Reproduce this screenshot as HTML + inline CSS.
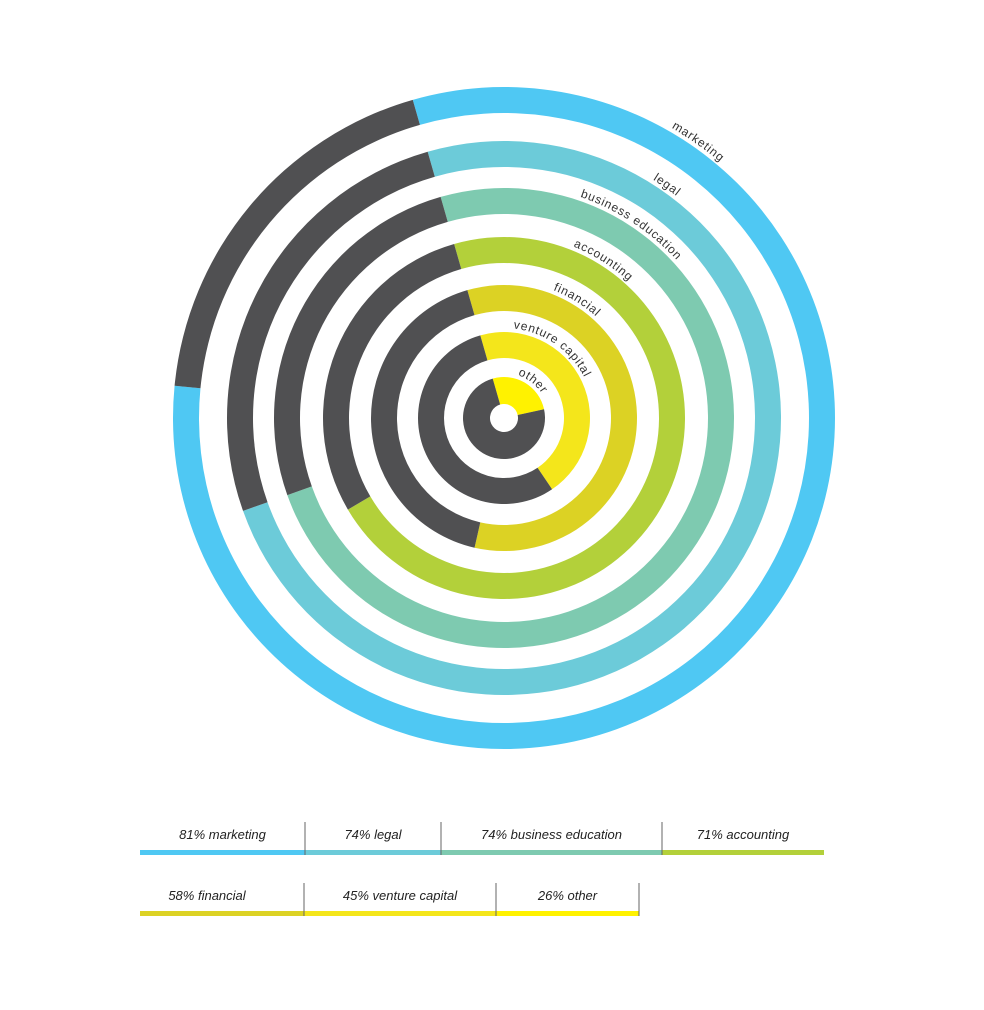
<!DOCTYPE html>
<html><head><meta charset="utf-8"><style>
html,body{margin:0;padding:0;background:#fff;}
svg{display:block;}
text{font-family:"Liberation Sans",sans-serif;}
</style></head><body>
<svg id="chart" width="984" height="1010" viewBox="0 0 984 1010" xmlns="http://www.w3.org/2000/svg">
<defs id="defs"></defs>
<g id="rings"></g>
<g id="labels"></g>
<g id="legend"></g>
</svg>
<script>
const categories = ["marketing","legal","business education","accounting","financial","venture capital","other"];
const values = [81,74,74,71,58,45,26];
const colors = ["#4fc8f3","#6ccbd9","#7ecab0","#b3d03a","#dcd224","#f4e61b","#fff200"];
const labelAngles = [30,32,19,22,21,6,18];
const outerRadii = [331,277,230,181,133,86,41];
const thick = [26,26,26,26,26,26,27];
const cx=504, cy=418, startDeg=-16, dark="#505052";
const NS="http://www.w3.org/2000/svg";
function pt(r,deg){const a=(deg-90)*Math.PI/180;return [cx+r*Math.cos(a),cy+r*Math.sin(a)];}
function arcPath(r0,r1,a0,a1){
  const large=(a1-a0)>180?1:0;
  const p0=pt(r1,a0),p1=pt(r1,a1),p2=pt(r0,a1),p3=pt(r0,a0);
  return `M${p0[0]},${p0[1]} A${r1},${r1} 0 ${large} 1 ${p1[0]},${p1[1]} L${p2[0]},${p2[1]} A${r0},${r0} 0 ${large} 0 ${p3[0]},${p3[1]} Z`;
}
const rings=document.getElementById('rings'),labels=document.getElementById('labels'),defs=document.getElementById('defs');
categories.forEach((c,i)=>{
  const r1=outerRadii[i], r0=r1-thick[i];
  const span=values[i]/100*360;
  const a0=startDeg, a1=startDeg+span;
  const col=document.createElementNS(NS,'path');
  col.setAttribute('d',arcPath(r0,r1,a0,a1));col.setAttribute('fill',colors[i]);
  
  
  rings.appendChild(col);
  const dk=document.createElementNS(NS,'path');
  dk.setAttribute('d',arcPath(r0,r1,a1,startDeg+360));dk.setAttribute('fill',dark);
  
  
  rings.appendChild(dk);
  const lr=r1+4, la=labelAngles[i];
  const p0=pt(lr,la),p1=pt(lr,la+170);
  const tp=document.createElementNS(NS,'path');
  tp.setAttribute('id','lp'+i);tp.setAttribute('d',`M${p0[0]},${p0[1]} A${lr},${lr} 0 0 1 ${p1[0]},${p1[1]}`);tp.setAttribute('fill','none');
  defs.appendChild(tp);
  const t=document.createElementNS(NS,'text');
  t.setAttribute('font-size','12');t.setAttribute('fill','#333');t.setAttribute('letter-spacing','0.8');
  
  
  const tpath=document.createElementNS(NS,'textPath');
  tpath.setAttribute('href','#lp'+i);tpath.textContent=c;
  t.appendChild(tpath);labels.appendChild(t);
});
const legendRows=[[0,1,2,3],[4,5,6]];
const legendBounds=[[140,305,441,662,824],[140,304,496,639]];
const legendY=[850,911];
const lg=document.getElementById('legend');
legendRows.forEach((row,ri)=>{
  const b=legendBounds[ri],y=legendY[ri];
  row.forEach((ci,k)=>{
    const x0=b[k],x1=b[k+1];
    const r=document.createElementNS(NS,'rect');
    r.setAttribute('x',x0);r.setAttribute('y',y);r.setAttribute('width',x1-x0);r.setAttribute('height',5);r.setAttribute('fill',colors[ci]);
    
    
    lg.appendChild(r);
    const t=document.createElementNS(NS,'text');
    const cxl=(ri===1&&k===0)?207:(x0+x1)/2;
    t.setAttribute('x',cxl);t.setAttribute('y',y-11);t.setAttribute('text-anchor','middle');
    t.setAttribute('font-size','13');t.setAttribute('font-style','italic');t.setAttribute('fill','#222');
    t.textContent=values[ci]+'% '+categories[ci];
    
    
    lg.appendChild(t);
    if(k>0){
      const l=document.createElementNS(NS,'line');
      l.setAttribute('x1',x0);l.setAttribute('x2',x0);l.setAttribute('y1',y-28);l.setAttribute('y2',y+5);
      l.setAttribute('stroke','#666');l.setAttribute('stroke-width','1');
      
      
      lg.appendChild(l);
    }
  });
  if(ri===1){
    const last=b[b.length-1];
    const l=document.createElementNS(NS,'line');
    l.setAttribute('x1',last);l.setAttribute('x2',last);l.setAttribute('y1',y-28);l.setAttribute('y2',y+5);
    l.setAttribute('stroke','#666');l.setAttribute('stroke-width','1');
    
    
    lg.appendChild(l);
  }
});
</script>
</body></html>
